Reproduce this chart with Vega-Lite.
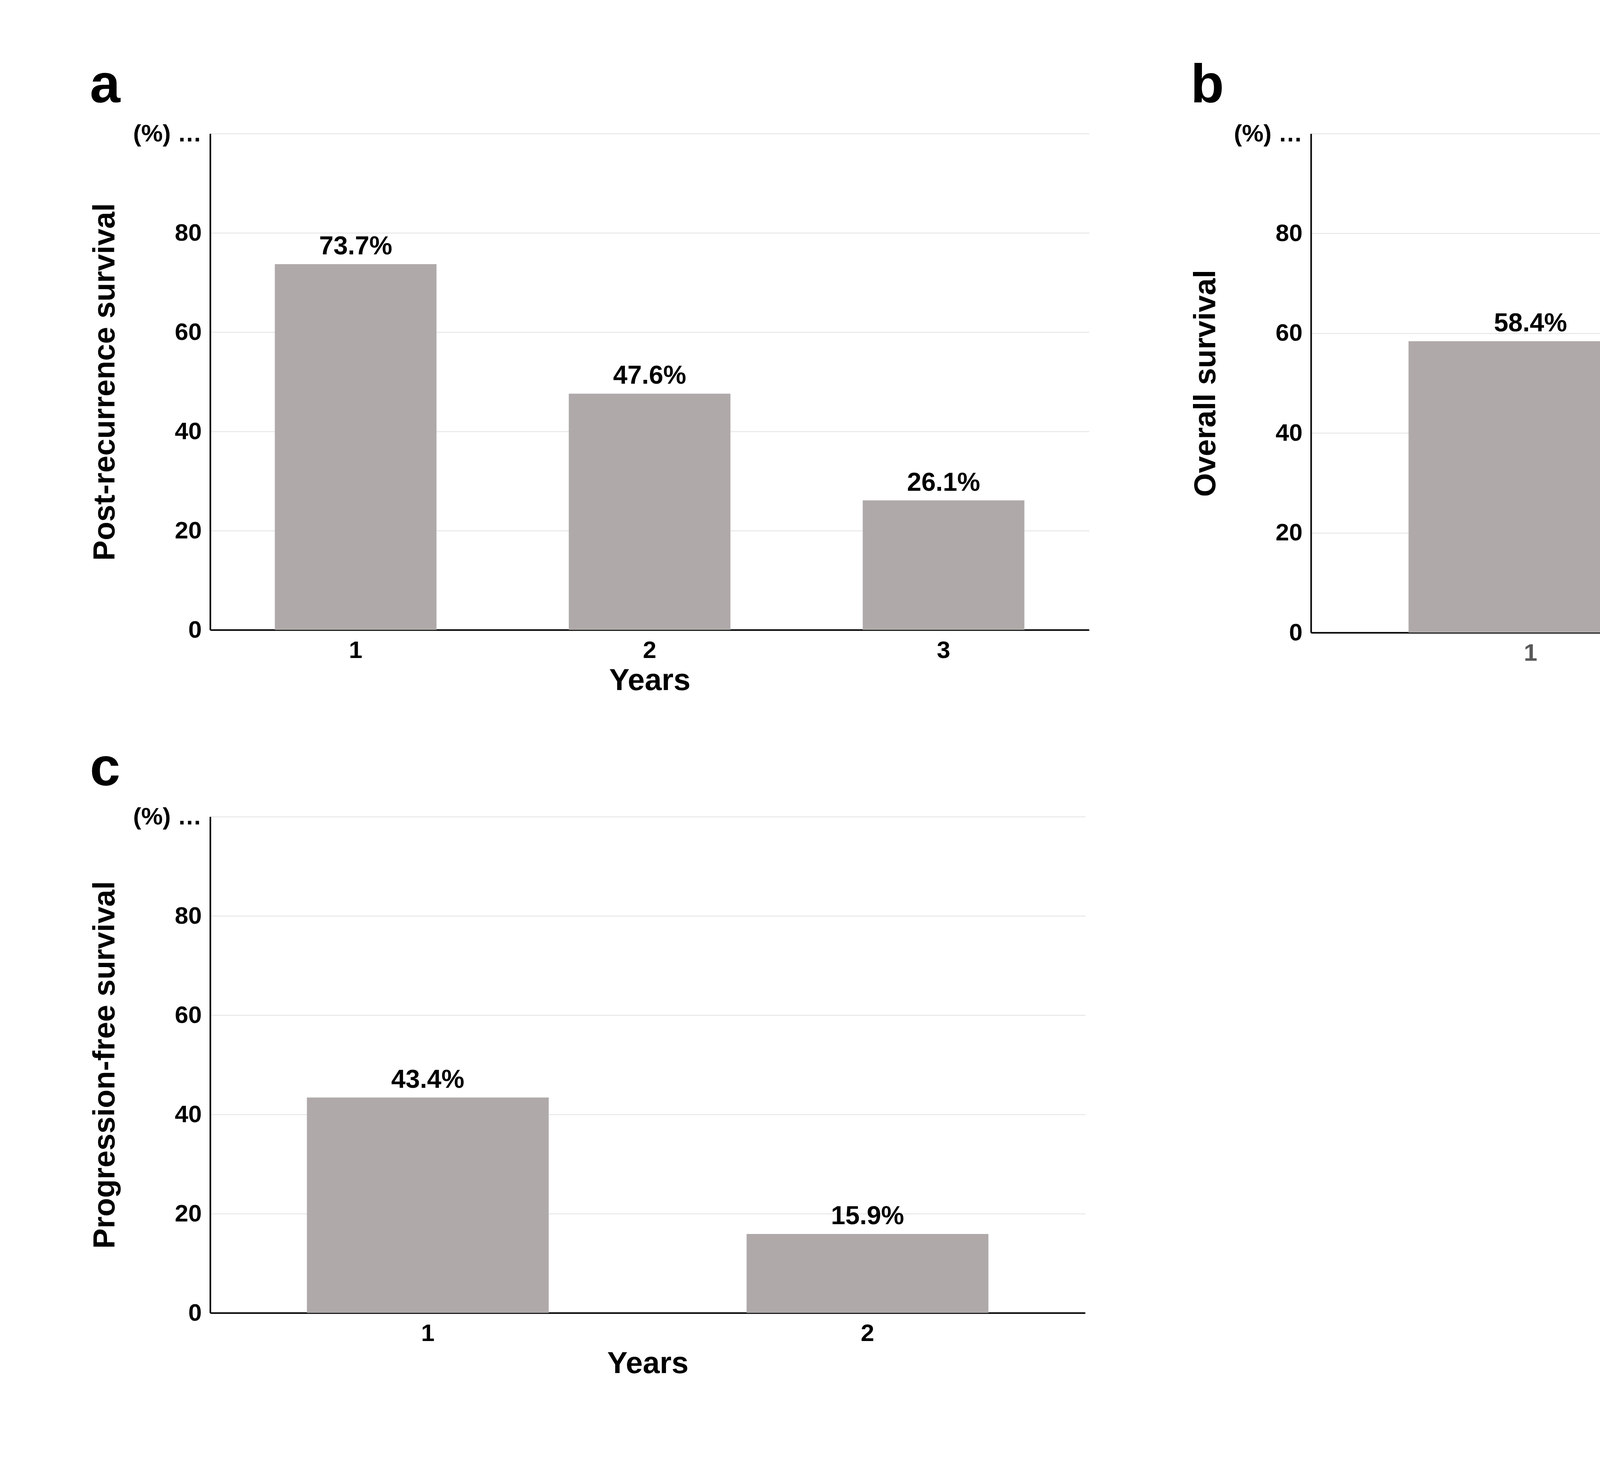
{
  "$schema": "https://vega.github.io/schema/vega-lite/v6.json",
  "background": "white",
  "padding": {"left": 230, "top": 150, "right": 40, "bottom": 40},
  "config": {
    "font": "Liberation Sans",
    "view": {"stroke": null},
    "axis": {
      "labelFontSize": 62, "labelFontWeight": "bold", "labelColor": "black",
      "titleFontSize": 78, "titleFontWeight": "bold", "titleColor": "black",
      "domainColor": "black", "domainWidth": 4, "ticks": false,
      "gridColor": "#EBEBEB", "gridWidth": 3, "labelPadding": 22
    },
    "axisX": {"grid": false, "labelAngle": 0, "titlePadding": 8},
    "title": {"fontSize": 140, "fontWeight": "bold", "anchor": "start", "frame": "bounds", "offset": 20, "color": "black"},
    "bar": {"color": "#AFAAA9"},
    "text": {"fontSize": 66, "fontWeight": "bold", "dy": -45, "color": "black"}
  },
  "spacing": 110,
  "vconcat": [
    {
      "spacing": 260,
      "hconcat": [
        {
          "title": "a",
          "width": 2250, "height": 1270,
          "data": {"values": [
            {"year": "1", "value": 73.7, "label": "73.7%"},
            {"year": "2", "value": 47.6, "label": "47.6%"},
            {"year": "3", "value": 26.1, "label": "26.1%"}
          ]},
          "encoding": {
            "x": {"field": "year", "type": "nominal", "title": "Years", "scale": {"paddingInner": 0.45, "paddingOuter": 0.22}},
            "y": {"field": "value", "type": "quantitative", "scale": {"domain": [0, 100]}, "title": "Post-recurrence survival",
              "axis": {"values": [0, 20, 40, 60, 80, 100], "labelExpr": "datum.value == 100 ? '(%) 100' : datum.label", "titleX": -230}}
          },
          "layer": [{"mark": "bar"}, {"mark": "text", "encoding": {"text": {"field": "label"}}}]
        },
        {
          "title": "b",
          "width": 2260, "height": 1277,
          "data": {"values": [
            {"year": "1", "value": 58.4, "label": "58.4%"},
            {"year": "2", "value": 24.4, "label": "36.1%"}
          ]},
          "encoding": {
            "x": {"field": "year", "type": "nominal", "title": "Years", "scale": {"paddingInner": 0.45, "paddingOuter": 0.22}, "axis": {"labelColor": "#595959"}},
            "y": {"field": "value", "type": "quantitative", "scale": {"domain": [0, 100]}, "title": "Overall survival",
              "axis": {"values": [0, 20, 40, 60, 80, 100], "labelExpr": "datum.value == 100 ? '(%) 100' : datum.label", "titleX": -230}}
          },
          "layer": [{"mark": "bar"}, {"mark": "text", "encoding": {"text": {"field": "label"}}}]
        }
      ]
    },
    {
      "title": "c",
      "width": 2240, "height": 1270,
      "data": {"values": [
        {"year": "1", "value": 43.4, "label": "43.4%"},
        {"year": "2", "value": 15.9, "label": "15.9%"}
      ]},
      "encoding": {
        "x": {"field": "year", "type": "nominal", "title": "Years", "scale": {"paddingInner": 0.45, "paddingOuter": 0.22}},
        "y": {"field": "value", "type": "quantitative", "scale": {"domain": [0, 100]}, "title": "Progression-free survival",
          "axis": {"values": [0, 20, 40, 60, 80, 100], "labelExpr": "datum.value == 100 ? '(%) 100' : datum.label", "titleX": -230}}
      },
      "layer": [{"mark": "bar"}, {"mark": "text", "encoding": {"text": {"field": "label"}}}]
    }
  ]
}
